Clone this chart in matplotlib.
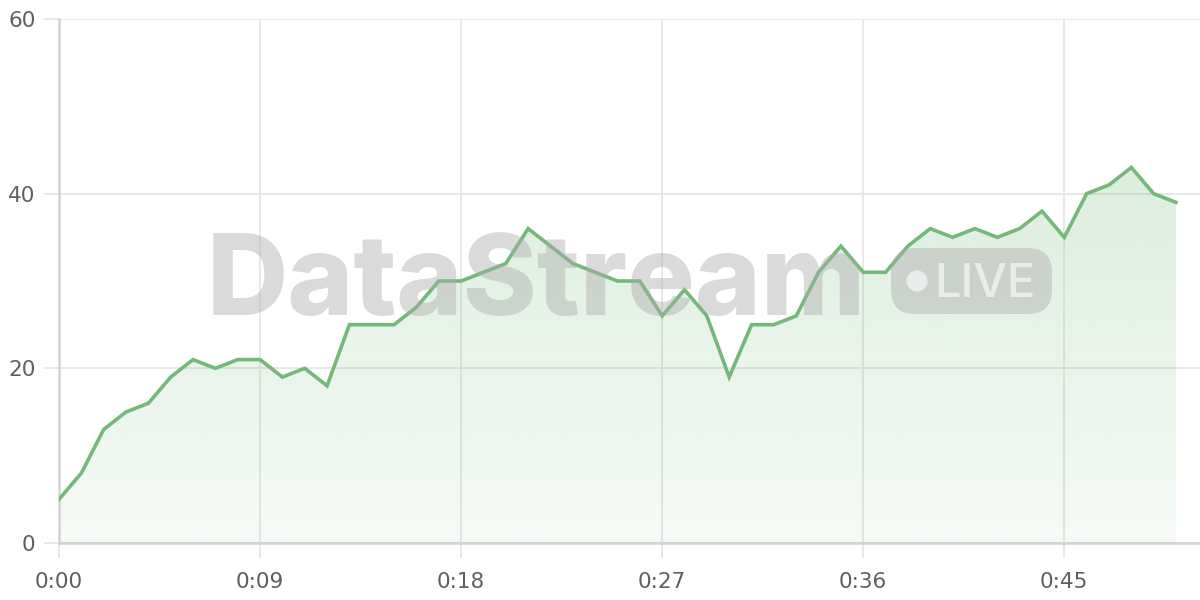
import matplotlib
matplotlib.use("Agg")
import matplotlib.pyplot as plt
import numpy as np
from matplotlib.patches import FancyBboxPatch, Ellipse, Polygon

# ---- data ----
seconds = list(range(51))
values = [5, 8, 13, 15, 16, 19, 21, 20, 21, 21,
          19, 20, 18, 25, 25, 25, 27, 30, 30, 31,
          32, 36, 34, 32, 31, 30, 30, 26, 29, 26,
          19, 25, 25, 26, 31, 34, 31, 31, 34, 36,
          35, 36, 35, 36, 38, 35, 40, 41, 43, 40,
          39]
xtick_pos = [0, 9, 18, 27, 36, 45]
xtick_labels = ["0:00", "0:09", "0:18", "0:27", "0:36", "0:45"]
ytick_pos = [0, 20, 40, 60]
ytick_labels = ["0", "20", "40", "60"]

LINE = "#74b97a"
GRID = "#e6e6e6"
SPINE = "#d2d2d2"
LABEL = "#5f5f5f"

W, H = 1200, 600
fig = plt.figure(figsize=(12, 6), dpi=100)
fig.patch.set_facecolor("white")

def fx(px):
    return px / W

def fy(py):
    return 1 - py / H

left_px, right_px, top_px, bot_px = 59, 1200, 19, 543
ax = fig.add_axes([fx(left_px), fy(bot_px), fx(right_px - left_px), (bot_px - top_px) / H])
px_per_sec = (1176 - 59) / 50.0
ax.set_xlim(0, (right_px - left_px) / px_per_sec)
ax.set_ylim(0, 60)

ax.grid(True, color=GRID, linewidth=1.3, zorder=0)
ax.set_axisbelow(True)
for s in ["top", "right"]:
    ax.spines[s].set_visible(False)
for s in ["left", "bottom"]:
    ax.spines[s].set_color(SPINE)
    ax.spines[s].set_linewidth(1.8)

ax.set_xticks(xtick_pos)
ax.set_xticklabels(xtick_labels)
ax.set_yticks(ytick_pos)
ax.set_yticklabels(ytick_labels)
ax.tick_params(axis="both", colors=GRID, length=11, width=1.3, labelcolor=LABEL, labelsize=15.5)
ax.tick_params(axis="x", pad=10)
ax.tick_params(axis="y", pad=6)

# gradient fill under the line
x = np.array(seconds, dtype=float)
y = np.array(values, dtype=float)
ymax = y.max()
grad = np.linspace(0.065, 0.25, 256).reshape(-1, 1)
rgba = np.zeros((256, 1, 4))
rgba[..., 0] = 0x74 / 255
rgba[..., 1] = 0xb9 / 255
rgba[..., 2] = 0x7a / 255
rgba[..., 3] = grad
im = ax.imshow(rgba, extent=[x.min(), x.max(), 0, ymax], origin="lower",
               aspect="auto", zorder=1, interpolation="bilinear")
poly_xy = np.vstack([np.column_stack([x, y]), [[x.max(), 0], [x.min(), 0]]])
clip = Polygon(poly_xy, closed=True, facecolor="none", edgecolor="none", transform=ax.transData)
ax.add_patch(clip)
im.set_clip_path(clip)

# watermark (figure-level)
wm_color = "#a9a9a9"
fig.text(fx(207), fy(315), "DataStream", fontsize=81, fontweight=800,
         family=["Inter", "Roboto", "DejaVu Sans"], color=wm_color, alpha=0.42,
         ha="left", va="baseline", zorder=2)
badge = FancyBboxPatch((fx(891), fy(314)), fx(1052 - 891), (314 - 248) / H,
                       boxstyle="round,pad=0,rounding_size=0.02",
                       transform=fig.transFigure, facecolor=wm_color, edgecolor="none",
                       alpha=0.42, zorder=2, mutation_aspect=2.0)
fig.add_artist(badge)
dot = Ellipse((fx(917), fy(281)), 21 / W, 21 / H, transform=fig.transFigure,
              facecolor="white", edgecolor="none", alpha=0.6, zorder=3)
fig.add_artist(dot)
fig.text(fx(934), fy(297), "LIVE", fontsize=34, fontweight=500,
         family=["Inter", "Roboto", "DejaVu Sans"],
         color="white", alpha=0.6, ha="left", va="baseline", zorder=3)

# line on top
ax.set_zorder(1)
ax.patch.set_alpha(0)
ax.plot(x, y, color=LINE, linewidth=2.6, zorder=5, solid_joinstyle="miter")

fig.savefig("out.png", dpi=100, facecolor="white")
